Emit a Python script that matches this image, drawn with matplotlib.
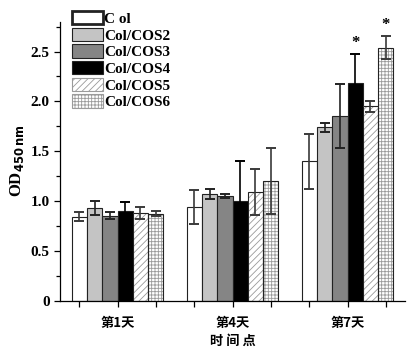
import numpy as np
import matplotlib
matplotlib.use('Agg')
import matplotlib.pyplot as plt
from matplotlib.ticker import MultipleLocator, FixedLocator

plt.rcParams['hatch.linewidth'] = 0.6

days = ['第1天', '第4天', '第7天']
groups = ['C ol', 'Col/COS2', 'Col/COS3', 'Col/COS4', 'Col/COS5', 'Col/COS6']

col_mean = [0.84, 0.94, 1.40]
col_err = [0.045, 0.17, 0.275]
cos2_mean = [0.93, 1.07, 1.74]
cos2_err = [0.075, 0.05, 0.047]
cos3_mean = [0.85, 1.05, 1.85]
cos3_err = [0.035, 0.02, 0.32]
cos4_mean = [0.90, 1.00, 2.18]
cos4_err = [0.09, 0.40, 0.30]
cos5_mean = [0.88, 1.09, 1.95]
cos5_err = [0.06, 0.23, 0.055]
cos6_mean = [0.87, 1.20, 2.54]
cos6_err = [0.025, 0.33, 0.115]

means = [col_mean, cos2_mean, cos3_mean, cos4_mean, cos5_mean, cos6_mean]
errs = [col_err, cos2_err, cos3_err, cos4_err, cos5_err, cos6_err]
faces = ['white', '#c4c4c4', '#858585', 'black', 'white', 'white']
hatches = [None, None, None, None, '/////', '+++++']
ecolors = ['#3a3a3a', '#222222', '#222222', 'black', '#3a3a3a', '#3a3a3a']

serif = 'Liberation Serif'

fig = plt.figure(figsize=(4.19, 3.55), dpi=100)
ax = fig.add_axes([0.1432, 0.153, 0.8234, 0.786])

x = np.arange(1, len(days) + 1)
w = 0.1333
handles = []
for k in range(6):
    pos = x + (k - 2.5) * w
    if hatches[k]:
        # grey hatch underneath, dark outline on top
        ax.bar(pos, means[k], w, color='white', edgecolor='#9a9a9a',
               linewidth=0, hatch=hatches[k], zorder=2)
        b = ax.bar(pos, means[k], w, fill=False, edgecolor='#222222',
                   linewidth=0.8, zorder=2.1)
        from matplotlib.patches import Patch
        h = Patch(facecolor='white', edgecolor='#9a9a9a', hatch=hatches[k],
                  linewidth=0.8, label=groups[k])
    else:
        b = ax.bar(pos, means[k], w, color=faces[k], edgecolor='#222222',
                   linewidth=0.8, label=groups[k], zorder=2)
        h = b
    ax.errorbar(pos, means[k], yerr=errs[k], fmt='none', ecolor=ecolors[k],
                elinewidth=1.2, capsize=3.5, capthick=1.4, zorder=3)
    handles.append(h)

# significance stars
ax.text(3 + 0.5 * w, cos4_mean[2] + cos4_err[2] + 0.03, '*', ha='center',
        va='bottom', fontsize=12, fontweight='bold', family=serif)
ax.text(3 + 2.5 * w, cos6_mean[2] + cos6_err[2] + 0.03, '*', ha='center',
        va='bottom', fontsize=12, fontweight='bold', family=serif)

ax.set_xlim(0.5, 3.5)
ax.set_ylim(0, 2.8)
ax.spines['top'].set_visible(False)
ax.spines['right'].set_visible(False)
ax.spines['left'].set_linewidth(0.9)
ax.spines['bottom'].set_linewidth(0.9)

ax.yaxis.set_minor_locator(MultipleLocator(0.25))
ax.set_yticks([0, 0.5, 1.0, 1.5, 2.0, 2.5])
ax.set_yticklabels(['0', '0.5', '1.0', '1.5', '2.0', '2.5'],
                   family=serif, fontweight='bold', fontsize=11)
ax.set_xticks(x)
ax.set_xticklabels(days, family='Noto Sans CJK SC', fontweight='bold',
                   fontsize=9.5)
ax.xaxis.set_minor_locator(FixedLocator(
    [d + s for d in x for s in (-1 / 3, 1 / 3)]))
ax.tick_params(axis='both', which='major', direction='out', length=4,
               width=0.9)
ax.tick_params(axis='both', which='minor', direction='out', length=3,
               width=0.9)
ax.tick_params(axis='x', which='minor', length=4)
ax.tick_params(axis='x', which='major', pad=7)

ax.set_ylabel('OD$_{\\mathbf{450\\,nm}}$', family=serif, fontweight='bold',
              fontsize=12, labelpad=3)
ax.set_xlabel('时 间 点', family='Noto Sans CJK SC', fontweight='bold',
              fontsize=9.5, labelpad=3)

leg = ax.legend(handles=handles, loc='upper left',
                bbox_to_anchor=(72 / 419, 1 - 11 / 355),
                bbox_transform=fig.transFigure, frameon=False,
                prop={'family': serif, 'weight': 'bold', 'size': 11},
                handlelength=2.0, handleheight=0.95, labelspacing=0.12,
                handletextpad=0.12, borderpad=0, borderaxespad=0)
leg.legend_handles[0].set_linewidth(2.0)

fig.savefig('out.png', dpi=100)
